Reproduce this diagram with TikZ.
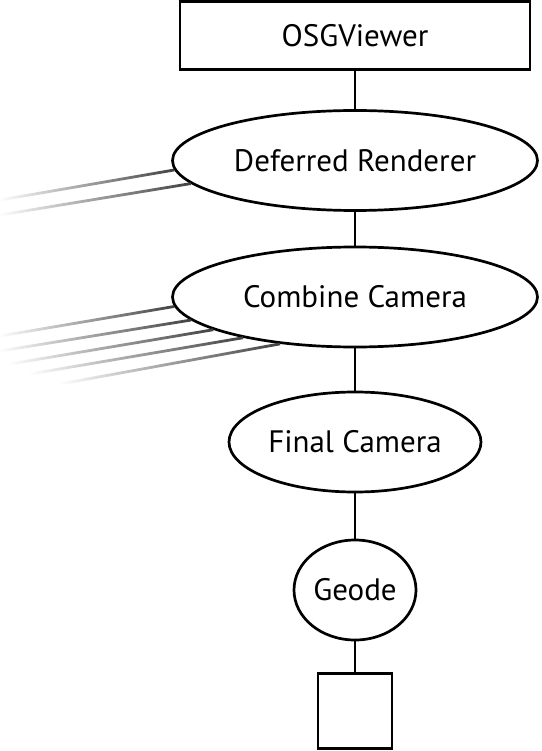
\documentclass[tikz,border=0pt]{standalone}
\usepackage{fontspec}
\setmainfont{PT Sans}
\usetikzlibrary{shapes.geometric,fadings}
\begin{document}
\begin{tikzpicture}[x=1pt,y=-1pt,line width=2.7pt,
  lbl/.style={font=\fontsize{31}{35}\selectfont},
  boxnode/.style={draw,rectangle,inner sep=0pt,lbl},
  ellnode/.style={draw,ellipse,inner sep=0pt,lbl},
  link/.style={line width=2.7pt},
  feed/.style={line width=2.8pt,draw=black!75,path fading=west}]
\useasboundingbox (0,0) rectangle (541,751);
% scene graph nodes
\node[boxnode,minimum width=350pt,minimum height=68pt] (viewer) at (355,35.5) {OSGViewer};
\node[ellnode,minimum width=365pt,minimum height=100pt] (defr) at (355,160.5) {Deferred Renderer};
\node[ellnode,minimum width=365pt,minimum height=100pt] (comb) at (355,297) {Combine Camera};
\node[ellnode,minimum width=252pt,minimum height=100pt] (final) at (355,442) {Final Camera};
\node[ellnode,minimum width=122pt,minimum height=100pt] (geode) at (355,590) {Geode};
\node[boxnode,minimum width=74pt,minimum height=75pt] (leaf) at (355,711) {};
% parent-child links
\draw[link] (viewer) -- (defr);
\draw[link] (defr) -- (comb);
\draw[link] (comb) -- (final);
\draw[link] (final) -- (geode);
\draw[link] (geode) -- (leaf);
% faded inputs into the renderer
\coordinate (d1) at (0,200);
\coordinate (d2) at (0,215);
\draw[feed] (d1) -- (defr.183.8);
\draw[feed] (d2) -- (defr.188);
% faded inputs into the combine camera
\coordinate (c1) at (0,336);
\coordinate (c2) at (0,351);
\coordinate (c3) at (10,364);
\coordinate (c4) at (30,374);
\coordinate (c5) at (60,384);
\draw[feed] (c1) -- (comb.183.5);
\draw[feed] (c2) -- (comb.188.2);
\draw[feed] (c3) -- (comb.193.8);
\draw[feed] (c4) -- (comb.200.5);
\draw[feed] (c5) -- (comb.212);
\end{tikzpicture}
\end{document}
